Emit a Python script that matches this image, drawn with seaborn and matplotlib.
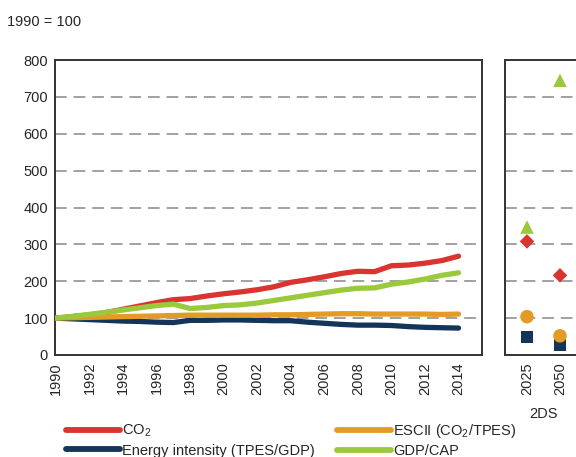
import pandas as pd
import matplotlib
matplotlib.use("Agg")
import matplotlib.pyplot as plt
import seaborn as sns

years = list(range(1990, 2015))
co2 = [100, 104, 109, 115, 124, 133, 142, 150, 153, 160, 166, 171, 177,
       185, 197, 204, 212, 221, 227, 226, 242, 244, 249, 256, 268]
escii = [100, 101, 102, 103, 104, 105, 106, 107, 108, 108, 108, 108, 108,
         109, 109, 110, 111, 112, 112, 111, 111, 111, 111, 110, 111]
energy_int = [100, 98, 96, 94, 92, 91, 89, 88, 94, 94, 95, 95, 94,
              93, 93, 89, 86, 83, 81, 81, 80, 77, 75, 74, 73]
gdp_cap = [100, 105, 110, 116, 122, 128, 134, 138, 126, 129, 134, 136, 141,
           148, 155, 162, 169, 176, 181, 182, 192, 198, 206, 216, 223]

ds_years = ["2025", "2050"]
ds_co2 = [308, 216]
ds_escii = [104, 52]
ds_energy = [48, 27]
ds_gdp = [347, 745]

names = ["CO$_2$", "Energy intensity (TPES/GDP)", "ESCII (CO$_2$/TPES)", "GDP/CAP"]
colors = ["#d9342f", "#13355a", "#e49b25", "#9bc93c"]
markers = ["D", "s", "o", "^"]
msizes = [55, 75, 95, 95]

sns.set_theme(style="white")
plt.rcParams["font.family"] = ["Liberation Sans", "DejaVu Sans"]
plt.rcParams["mathtext.default"] = "regular"
fs = 10.5

hist = pd.DataFrame({
    "year": years * 4,
    "value": co2 + energy_int + escii + gdp_cap,
    "series": [n for n in names for _ in years],
})
proj = pd.DataFrame({
    "pos": [0, 1] * 4,
    "value": ds_co2 + ds_energy + ds_escii + ds_gdp,
    "series": [n for n in names for _ in ds_years],
})
palette = dict(zip(names, colors))

fig = plt.figure(figsize=(5.76, 4.57), dpi=100)
ax = fig.add_axes([0.0955, 0.2232, 0.7413, 0.6455])
ax2 = fig.add_axes([0.8767, 0.2232, 0.1337, 0.6455])

grid_kw = dict(color="#9a9a9a", lw=1.3, dashes=(6.5, 3.8), zorder=0)
for a in (ax, ax2):
    for v in range(100, 800, 100):
        a.axhline(v, **grid_kw)
    a.set_ylim(0, 800)
    for s in a.spines.values():
        s.set_color("#333333")
        s.set_linewidth(1.4)

sns.lineplot(data=hist, x="year", y="value", hue="series", palette=palette,
             linewidth=3.8, ax=ax, legend=False, zorder=3)
ax.set_xlim(1989.95, 2015.4)
ax.set_xticks(range(1990, 2015, 2))
ax.set_xticklabels([str(y) for y in range(1990, 2015, 2)], rotation=90, fontsize=fs)
ax.set_yticks(range(0, 900, 100))
ax.set_yticklabels([str(v) for v in range(0, 900, 100)], fontsize=fs)
ax.tick_params(direction="in", length=4, width=1.2, color="#333333", pad=5)
ax.set_xlabel("")
ax.set_ylabel("")

sns.scatterplot(data=proj, x="pos", y="value", hue="series", style="series",
                size="series", sizes=dict(zip(names, msizes)),
                palette=palette, markers=dict(zip(names, markers)),
                edgecolor="none", ax=ax2, legend=False, zorder=3)
ax2.set_xlim(-0.667, 1.667)
ax2.set_xticks([0, 1])
ax2.set_xticklabels(ds_years, rotation=90, fontsize=fs)
ax2.set_yticks([])
ax2.tick_params(axis="x", direction="in", length=4, width=1.2, color="#333333", pad=5)
ax2.set_xlabel("2DS", fontsize=fs, labelpad=9)
ax2.set_ylabel("")

fig.text(0.012, 0.952, "1990 = 100", fontsize=fs, va="center", ha="left")

handles = [plt.Line2D([], [], color=c, lw=4.2) for c in colors]
fig.legend(handles, names, ncol=2, loc="upper left", bbox_to_anchor=(0.114, 0.077),
           frameon=False, fontsize=fs, handlelength=3.7, handletextpad=0.15,
           columnspacing=1.55, labelspacing=0.3, borderaxespad=0, borderpad=0)

fig.savefig("out.png", dpi=100)
